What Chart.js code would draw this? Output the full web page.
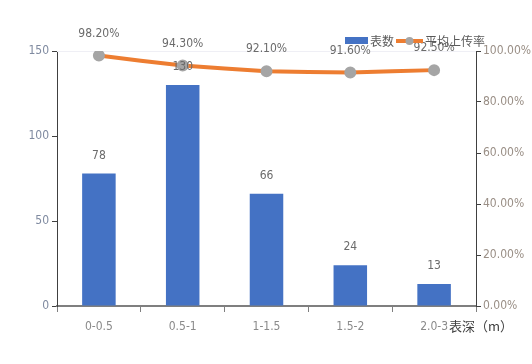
<!DOCTYPE html>
<html>
<head>
<meta charset="utf-8">
<script src="https://cdn.jsdelivr.net/npm/chart.js@4"></script>
<style>
  body { margin: 0; background: #fff; }
</style>
</head>
<body>
<canvas id="grafico" width="532" height="364"></canvas>
<script>
// datos
const categorias = ['0-0.5', '0.5-1', '1-1.5', '1.5-2', '2.0-3'];
const cantidadMedidores = [78, 130, 66, 24, 13];
const tasaPromedio = [98.2, 94.3, 92.1, 91.6, 92.5];
const ticksIzq = [0, 50, 100, 150];
const ticksDer = [0, 20, 40, 60, 80, 100];

const fuenteNum = "'Liberation Sans Narrow', 'DejaVu Sans Condensed', 'Noto Sans CJK SC', sans-serif";
const fuenteCJK = "'Noto Sans CJK SC', sans-serif";

// etiquetas de datos, leyenda y título del eje
const extras = {
  id: 'extras',
  afterDatasetsDraw(chart) {
    const ctx = chart.ctx;
    ctx.save();
    ctx.font = '12px ' + fuenteNum;
    ctx.fillStyle = '#6b6b6b';
    ctx.textAlign = 'center';
    ctx.textBaseline = 'middle';
    chart.getDatasetMeta(1).data.forEach((bar, i) => {
      ctx.fillText(String(cantidadMedidores[i]), bar.x, bar.y - 18);
    });
    chart.getDatasetMeta(0).data.forEach((pt, i) => {
      ctx.fillText(tasaPromedio[i].toFixed(2) + '%', pt.x, pt.y - 22);
    });

    // leyenda
    ctx.fillStyle = '#4472C4';
    ctx.fillRect(345, 37, 23, 7);
    ctx.fillStyle = '#595959';
    ctx.textAlign = 'left';
    ctx.font = '12px ' + fuenteCJK;
    ctx.fillText('表数', 370, 41);
    ctx.strokeStyle = '#ED7D31';
    ctx.lineWidth = 4;
    ctx.beginPath();
    ctx.moveTo(396, 41);
    ctx.lineTo(423, 41);
    ctx.stroke();
    ctx.fillStyle = '#A5A5A5';
    ctx.beginPath();
    ctx.arc(409.5, 41, 4, 0, Math.PI * 2);
    ctx.fill();
    ctx.fillStyle = '#595959';
    ctx.fillText('平均上传率', 425, 41);

    // título del eje x
    ctx.fillStyle = '#fff';
    ctx.fillRect(449, 316, 56, 20);
    ctx.fillStyle = '#404040';
    ctx.font = '13px ' + fuenteCJK;
    ctx.fillText('表深（m）', 449, 326);
    ctx.restore();
  },
  beforeDatasetsDraw(chart) {
    // línea tenue superior del área de trazado
    const a = chart.chartArea;
    const ctx = chart.ctx;
    ctx.save();
    ctx.strokeStyle = '#efeff5';
    ctx.lineWidth = 1;
    ctx.beginPath();
    ctx.moveTo(a.left, a.top + 0.5);
    ctx.lineTo(a.right, a.top + 0.5);
    ctx.stroke();
    ctx.restore();
  }
};

const ctx = document.getElementById('grafico').getContext('2d');
new Chart(ctx, {
  data: {
    labels: categorias,
    datasets: [{
      type: 'line',
      label: '平均上传率',
      data: tasaPromedio,
      yAxisID: 'y2',
      borderColor: '#ED7D31',
      borderWidth: 4,
      pointBackgroundColor: '#A5A5A5',
      pointBorderColor: '#A5A5A5',
      pointRadius: 4,
      tension: 0.1,
      order: 0
    }, {
      type: 'bar',
      label: '表数',
      data: cantidadMedidores,
      yAxisID: 'y',
      backgroundColor: '#4472C4',
      barPercentage: 0.8,
      categoryPercentage: 0.5,
      order: 1
    }]
  },
  options: {
    responsive: false,
    animation: false,
    devicePixelRatio: 1,
    layout: { padding: { top: 51, left: 0, right: 0, bottom: 0 } },
    plugins: { legend: { display: false }, tooltip: { enabled: false } },
    scales: {
      x: {
        grid: { offset: true, drawOnChartArea: false, tickLength: 6, color: '#7f7f7f' },
        border: { color: '#7f7f7f', width: 2 },
        ticks: { color: '#8a8a8a', font: { size: 12, family: fuenteNum }, padding: 8 },
        afterFit(s) { s.height = 58; }
      },
      y: {
        position: 'left',
        min: 0, max: 150,
        afterBuildTicks(s) { s.ticks = ticksIzq.map(v => ({ value: v })); },
        grid: { drawOnChartArea: false, tickLength: 5, color: '#404040' },
        border: { color: '#404040', width: 1 },
        ticks: { color: '#7f8aa0', font: { size: 12, family: fuenteNum }, padding: 3 },
        afterFit(s) { s.width = 57; }
      },
      y2: {
        position: 'right',
        min: 0, max: 100,
        afterBuildTicks(s) { s.ticks = ticksDer.map(v => ({ value: v })); },
        grid: { drawOnChartArea: false, tickLength: 5, color: '#404040' },
        border: { color: '#404040', width: 1 },
        ticks: {
          color: '#9a8f86', font: { size: 12, family: fuenteNum }, padding: 2,
          callback: v => v.toFixed(2) + '%'
        },
        afterFit(s) { s.width = 56; }
      }
    }
  },
  plugins: [extras]
});
</script>
</body>
</html>
